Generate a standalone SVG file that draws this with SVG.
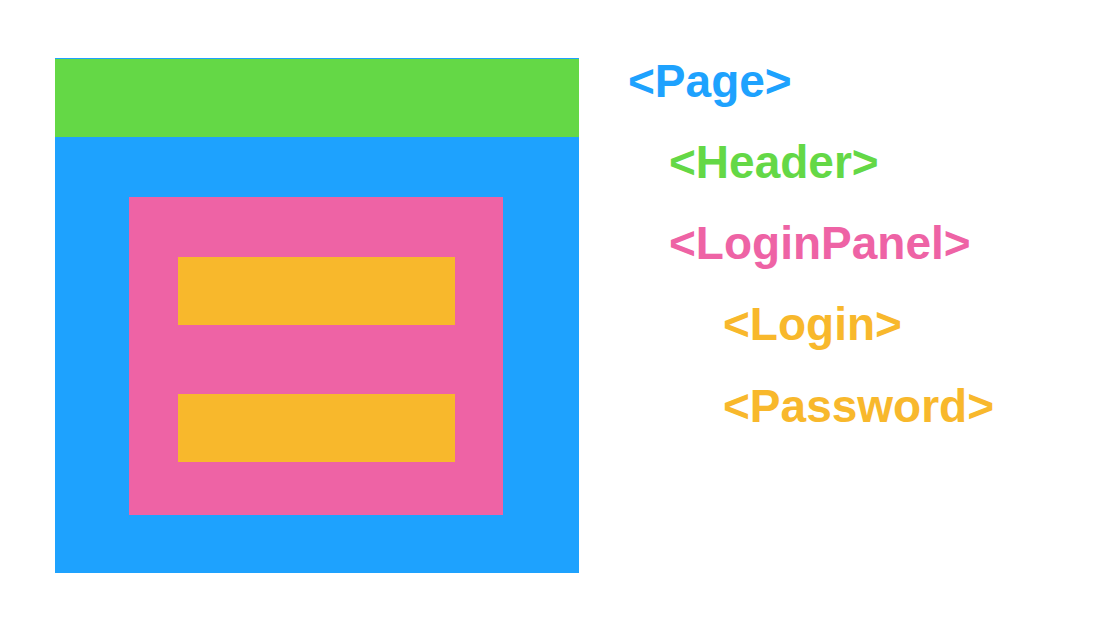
<svg xmlns="http://www.w3.org/2000/svg" width="1096" height="618" viewBox="0 0 1096 618">
<style>
text{font-family:"Liberation Sans",Arial,sans-serif;font-weight:bold;font-size:46px}
.b{fill:#1EA2FE}.g{fill:#64D846}.p{fill:#EE63A5}.o{fill:#F8B82C}
</style>
<rect width="1096" height="618" fill="#fff"/>
<g id="page"><rect class="b" x="55" y="58" width="524" height="515"/></g>
<g id="header"><rect class="g" x="55" y="59" width="524" height="78"/></g>
<g id="loginpanel"><rect class="p" x="129" y="197" width="374" height="318"/></g>
<g id="login"><rect class="o" x="178" y="257" width="277" height="68"/></g>
<g id="password"><rect class="o" x="178" y="394" width="277" height="68"/></g>
<g id="labels">
<text class="b" x="628" y="97">&lt;Page&gt;</text>
<text class="g" x="669" y="178">&lt;Header&gt;</text>
<text class="p" x="669" y="259">&lt;LoginPanel&gt;</text>
<text class="o" x="723" y="340">&lt;Login&gt;</text>
<text class="o" x="723" y="422">&lt;Password&gt;</text>
</g>
<g id="connectors"/>
</svg>
